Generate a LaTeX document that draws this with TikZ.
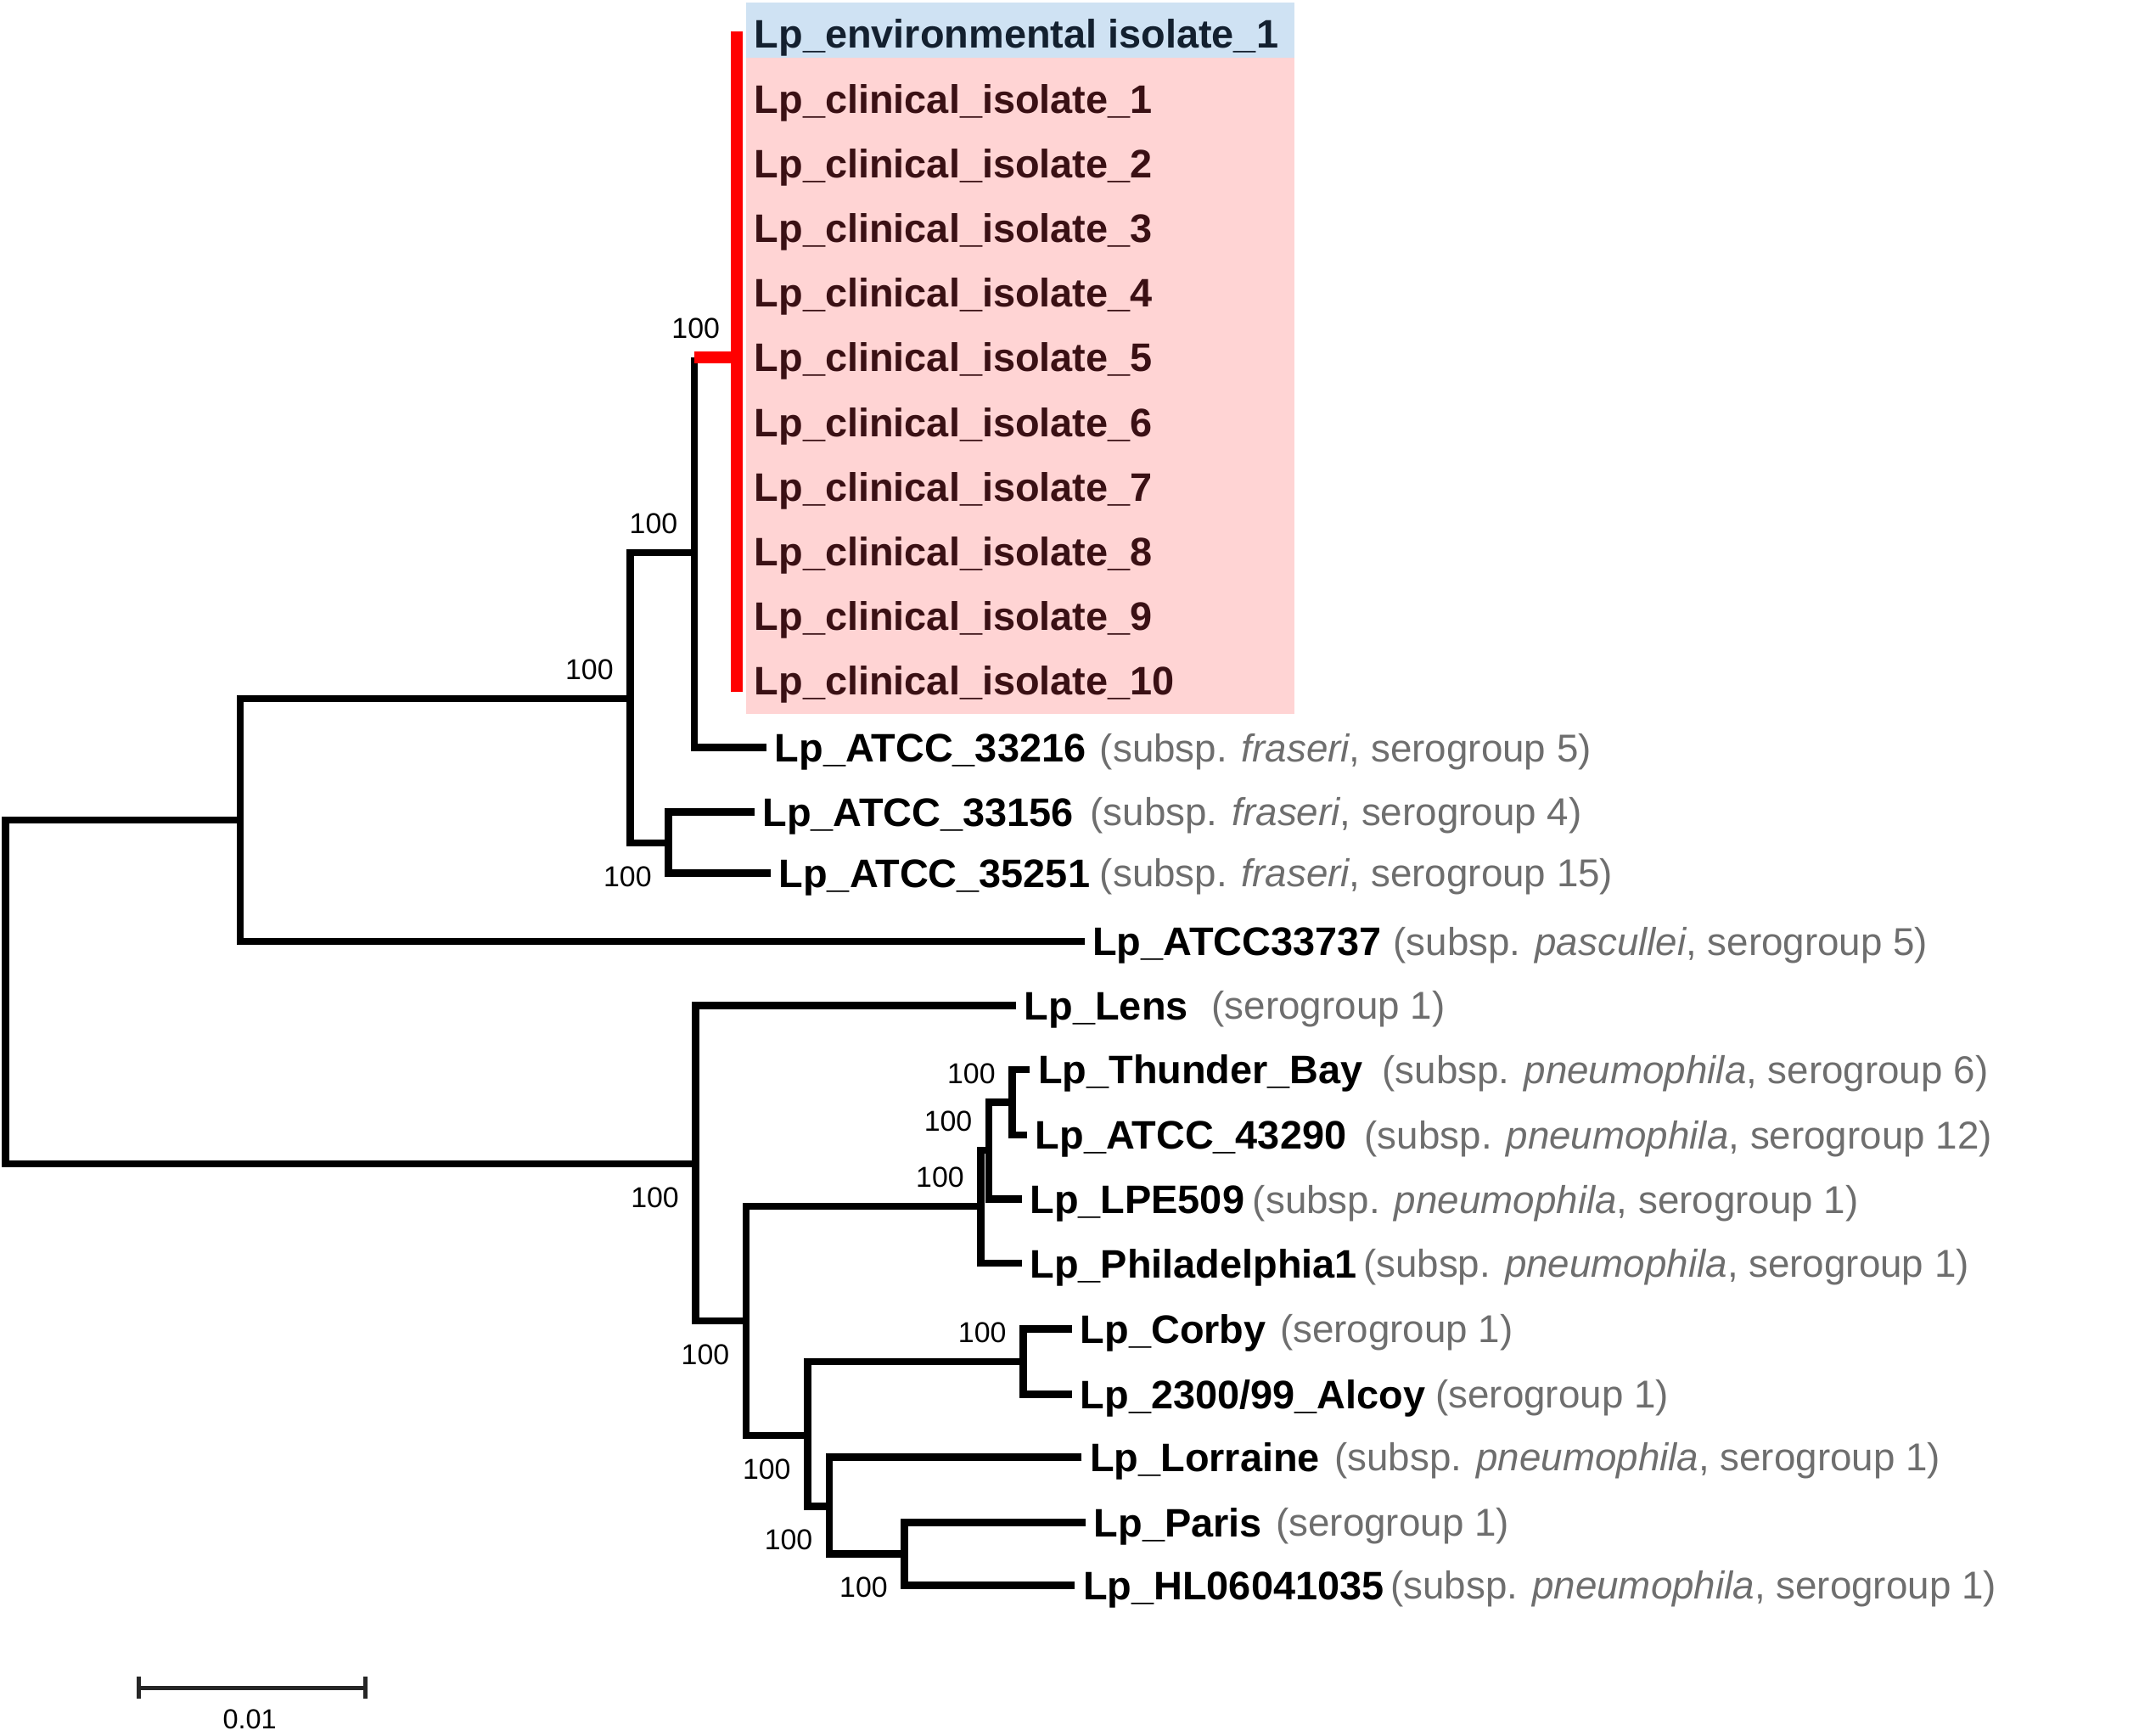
\documentclass[tikz,border=0pt]{standalone}
\usepackage{fontspec}
\setmainfont{Liberation Sans}
\usetikzlibrary{
    positioning,
    calc
}
\definecolor{cladered}{HTML}{FF0000}
\definecolor{pinkbox}{HTML}{FFD4D4}
\definecolor{bluebox}{HTML}{CFE2F3}
\definecolor{clintext}{HTML}{3A1014}
\definecolor{envtext}{HTML}{13202F}
\definecolor{annot}{HTML}{6E6E6E}
\tikzset{
    % Branch styles
    branch/.style={
        line width=3pt,
        color=black
    },
    redbranch/.style={
        line width=4.8pt,
        color=cladered
    },
    % Taxon label style
    taxon/.style={
        anchor=west,
        inner sep=0pt,
        outer xsep=0.12cm,
        text height=11.9pt,
        text depth=0pt,
        font=\fontsize{16.6}{18}\selectfont\bfseries
    },
    % Grey serogroup note style
    note/.style={
        anchor=west,
        inner sep=0pt,
        text height=11.6pt,
        text depth=0pt,
        font=\fontsize{16.2}{18}\selectfont,
        text=annot
    },
    % Bootstrap value styles
    boot/.style={
        inner sep=0pt,
        text height=8.6pt,
        text depth=0pt,
        font=\fontsize{12}{14}\selectfont
    },
    bootup/.style={
        boot,
        anchor=south east,
        xshift=-0.24cm,
        yshift=0.27cm
    },
    bootdown/.style={
        boot,
        anchor=north east,
        xshift=-0.24cm,
        yshift=-0.33cm
    },
    % Scale bar style
    scalebar/.style={
        line width=1.8pt,
        color=black!85
    }
}

\begin{document}
\begin{tikzpicture}[x=0.02cm, y=-0.02cm]
        \useasboundingbox (0,0) rectangle (1568,1272);

        % Highlight boxes behind the isolates
        \fill[pinkbox] (547,42) rectangle (949,523);
        \fill[bluebox] (547,2) rectangle (949,42);

        % Internal nodes
        \coordinate (nRoot) at (4,727);
        \coordinate (nA) at (176,601);
        \coordinate (nB) at (462,512);
        \coordinate (nC) at (509,405);
        \coordinate (nE) at (540,262);
        \coordinate (nD) at (490,618);
        \coordinate (nF) at (510,853);
        \coordinate (nG) at (547,968);
        \coordinate (nH) at (719,884);
        \coordinate (nJ) at (725,843);
        \coordinate (nK) at (742,808);
        \coordinate (nI) at (592,1052);
        \coordinate (nL) at (750,998);
        \coordinate (nM) at (608,1104);
        \coordinate (nN) at (663,1139);
        \coordinate (eTop) at (540,23);
        \coordinate (eBot) at (540,507);

        % Isolates
        \node[taxon, text=envtext] (lEnv) at (547,25) {Lp\_environmental isolate\_1};
        \foreach \i in {1,...,10}
            \node[taxon, text=clintext] (lC\i) at (547,25+47.4*\i) {Lp\_clinical\_isolate\_\i};

        % Reference strains
        \node[taxon] (l33216) at (562,548) {Lp\_ATCC\_33216};
        \node[taxon] (l33156) at (553,595) {Lp\_ATCC\_33156};
        \node[taxon] (l35251) at (565,640) {Lp\_ATCC\_35251};
        \node[taxon] (l33737) at (795,690) {Lp\_ATCC33737};
        \node[taxon] (lLens) at (745,737) {Lp\_Lens};
        \node[taxon] (lTB) at (755,784) {Lp\_Thunder\_Bay};
        \node[taxon] (l43290) at (753,832) {Lp\_ATCC\_43290};
        \node[taxon] (lLPE) at (749,879) {Lp\_LPE509};
        \node[taxon] (lPhil) at (749,926) {Lp\_Philadelphia1};
        \node[taxon] (lCorby) at (786,974) {Lp\_Corby};
        \node[taxon] (lAlcoy) at (786,1022) {Lp\_2300/99\_Alcoy};
        \node[taxon] (lLorraine) at (793,1068) {Lp\_Lorraine};
        \node[taxon] (lParis) at (796,1116) {Lp\_Paris};
        \node[taxon] (lHL) at (788,1162) {Lp\_HL06041035};

        % Serogroup notes
        \node[note] (s33216) at (806,548) {(subsp. \textit{fraseri}, serogroup 5)};
        \node[note] (s33156) at (799,595) {(subsp. \textit{fraseri}, serogroup 4)};
        \node[note] (s35251) at (806,640) {(subsp. \textit{fraseri}, serogroup 15)};
        \node[note] (s33737) at (1021,690) {(subsp. \textit{pascullei}, serogroup 5)};
        \node[note] (sLens) at (888,737) {(serogroup 1)};
        \node[note] (sTB) at (1013,784) {(subsp. \textit{pneumophila}, serogroup 6)};
        \node[note] (s43290) at (1000,832) {(subsp. \textit{pneumophila}, serogroup 12)};
        \node[note] (sLPE) at (918,879) {(subsp. \textit{pneumophila}, serogroup 1)};
        \node[note] (sPhil) at (999,926) {(subsp. \textit{pneumophila}, serogroup 1)};
        \node[note] (sCorby) at (938,974) {(serogroup 1)};
        \node[note] (sAlcoy) at (1052,1022) {(serogroup 1)};
        \node[note] (sLorraine) at (978,1068) {(subsp. \textit{pneumophila}, serogroup 1)};
        \node[note] (sParis) at (935,1116) {(serogroup 1)};
        \node[note] (sHL) at (1019,1162) {(subsp. \textit{pneumophila}, serogroup 1)};

        % Branches
        \draw[branch] (nA) -| (nRoot) |- (nF);
        \draw[branch] (nB) -| (nA) |- (l33737.west);
        \draw[branch] (nC) -| (nB) |- (nD);
        \draw[branch] (nC |- nE) -- (nC) |- (l33216.west);
        \draw[branch] (l33156.west) -| (nD) |- (l35251.west);
        \draw[branch] (lLens.west) -| (nF) |- (nG);
        \draw[branch] (nH) -| (nG) |- (nI);
        \draw[branch] (nJ) -| (nH) |- (lPhil.west);
        \draw[branch] (nK) -| (nJ) |- (lLPE.west);
        \draw[branch] (lTB.west) -| (nK) |- (l43290.west);
        \draw[branch] (nL) -| (nI) |- (nM);
        \draw[branch] (lCorby.west) -| (nL) |- (lAlcoy.west);
        \draw[branch] (lLorraine.west) -| (nM) |- (nN);
        \draw[branch] (lParis.west) -| (nN) |- (lHL.west);

        % Outbreak clade
        \draw[redbranch] (nC |- nE) -- (nE);
        \draw[redbranch] (eTop) -- (eBot);

        % Bootstrap values
        \node[bootup] (bE) at (nE) {100};
        \node[bootup] (bC) at (nC) {100};
        \node[bootup] (bB) at (nB) {100};
        \node[bootdown] (bD) at (nD) {100};
        \node[bootup] (bK) at (nK) {100};
        \node[bootup] (bJ) at (nJ) {100};
        \node[bootup] (bH) at (nH) {100};
        \node[bootdown] (bF) at (nF) {100};
        \node[bootup] (bL) at (nL) {100};
        \node[bootdown] (bG) at (nG) {100};
        \node[bootdown] (bI) at (nI) {100};
        \node[bootdown] (bM) at (nM) {100};
        \node[bootdown] (bN) at (nN) {100};

        % Scale bar
        \coordinate (sbL) at (102,1237);
        \coordinate (sbR) at (268,1237);
        \draw[scalebar] (sbL) -- (sbR);
        \draw[scalebar] ($(sbL)+(0,-8)$) -- ($(sbL)+(0,8)$);
        \draw[scalebar] ($(sbR)+(0,-8)$) -- ($(sbR)+(0,8)$);
        \node[font=\fontsize{11.5}{13}\selectfont] (sbText) at (183,1260) {0.01};
    \end{tikzpicture}
\end{document}
